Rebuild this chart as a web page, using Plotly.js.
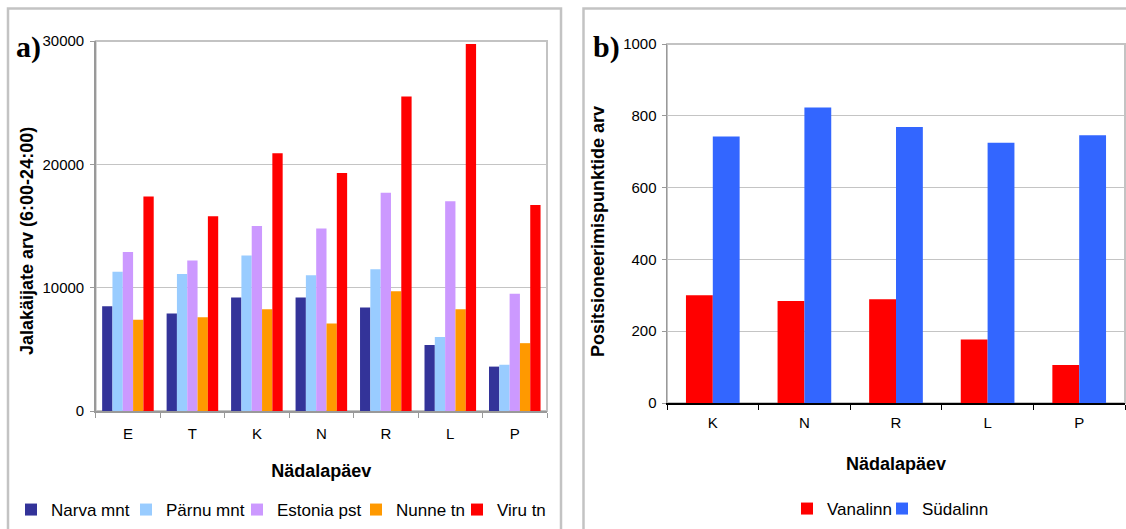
<!DOCTYPE html>
<html>
<head>
<meta charset="utf-8">
<script src="https://cdn.plot.ly/plotly-3.0.1.min.js"></script>
<style>html,body{margin:0;padding:0;background:#fff;}#chart{width:1126px;height:529px;}</style>
</head>
<body>
<div id="chart"></div>
<script>
// ---- data (a): pedestrians per weekday ----
const daysA = ['E', 'T', 'K', 'N', 'R', 'L', 'P'];
const narvaMnt   = [8500, 7900, 9200, 9200, 8400, 5350, 3600];
const parnuMnt   = [11300, 11100, 12600, 11000, 11500, 6000, 3750];
const estoniaPst = [12900, 12200, 15000, 14800, 17700, 17000, 9500];
const nunneTn    = [7400, 7600, 8250, 7100, 9700, 8250, 5500];
const viruTn     = [17400, 15800, 20900, 19300, 25500, 29750, 16700];

// ---- data (b): positioning points per weekday ----
const daysB = ['K', 'N', 'R', 'L', 'P'];
const vanalinn = [300, 284, 289, 177, 106];
const sudalinn = [742, 823, 769, 725, 746];

const FONT = 'Liberation Sans, Arial, sans-serif';
const W = 1126, H = 529;
const px = v => v / W;
const py = v => 1 - v / H;

// one legend per entry so each entry sits where the reference has it
const seriesA = [
  {name: 'Narva mnt',   y: narvaMnt,   color: '#333399', lg: 'legend',  tx: 49},
  {name: 'Pärnu mnt',   y: parnuMnt,   color: '#99CCFF', lg: 'legend2', tx: 164},
  {name: 'Estonia pst', y: estoniaPst, color: '#CC99FF', lg: 'legend3', tx: 275},
  {name: 'Nunne tn',    y: nunneTn,    color: '#FF9900', lg: 'legend4', tx: 394},
  {name: 'Viru tn',     y: viruTn,     color: '#FF0000', lg: 'legend5', tx: 495}
];

const traces = seriesA.map(s => ({
  type: 'bar', x: daysA, y: s.y, name: s.name,
  marker: {color: s.color, line: {width: 0}},
  xaxis: 'x', yaxis: 'y', legend: s.lg
}));

const bw = 0.293;
traces.push({
  type: 'bar', x: daysB, y: vanalinn, name: 'Vanalinn',
  marker: {color: '#FF0000', line: {width: 0}},
  width: bw, offset: -bw,
  xaxis: 'x2', yaxis: 'y2', legend: 'legend6'
});
traces.push({
  type: 'bar', x: daysB, y: sudalinn, name: 'Südalinn',
  marker: {color: '#3366FF', line: {width: 0}},
  width: bw, offset: 0,
  xaxis: 'x2', yaxis: 'y2', legend: 'legend7'
});

const tickFont = {family: FONT, size: 15, color: '#000'};
const titleFont = {family: FONT, size: 18, color: '#000', weight: 'bold'};
const gridC = '#c4c4c4';

function mkLegend(textX, yCenter) {
  return {
    orientation: 'h', x: px(textX - 38), xanchor: 'left', y: py(yCenter), yanchor: 'middle',
    font: {family: FONT, size: 17, color: '#000'}, itemwidth: 30,
    bgcolor: 'rgba(0,0,0,0)', borderwidth: 0
  };
}

const layout = {
  width: W, height: H,
  margin: {l: 0, r: 0, t: 0, b: 0},
  paper_bgcolor: '#fff', plot_bgcolor: '#fff',
  font: {family: FONT, color: '#000'},
  barmode: 'group', bargap: 0.2, bargroupgap: 0,
  showlegend: true,
  xaxis: {
    domain: [px(95.7), px(547)], anchor: 'y', type: 'category',
    showline: true, linecolor: '#999', linewidth: 1.5,
    ticks: 'outside', tickson: 'boundaries', ticklen: 5, tickcolor: '#999',
    tickfont: tickFont, ticklabelstandoff: 8, showgrid: false, zeroline: false,
    title: {text: 'Nädalapäev', font: titleFont, standoff: 24}
  },
  yaxis: {
    domain: [py(411), py(41)], anchor: 'x', range: [0, 30000], dtick: 10000, tickformat: 'd',
    showline: true, linecolor: '#999', linewidth: 1.5,
    ticks: 'outside', ticklen: 4, tickcolor: '#999', ticklabelstandoff: 3,
    tickfont: tickFont, showgrid: true, gridcolor: gridC, gridwidth: 1, zeroline: false
  },
  xaxis2: {
    domain: [px(667), px(1125)], anchor: 'y2', type: 'category',
    showline: true, linecolor: '#000', linewidth: 1.5,
    ticks: 'outside', tickson: 'boundaries', ticklen: 5, tickcolor: '#000',
    tickfont: tickFont, ticklabelstandoff: 5, showgrid: false, zeroline: false,
    title: {text: 'Nädalapäev', font: titleFont, standoff: 28}
  },
  yaxis2: {
    domain: [py(403), py(44)], anchor: 'x2', range: [0, 1000], dtick: 200, tickformat: 'd',
    showline: true, linecolor: '#999', linewidth: 1.5,
    ticks: 'outside', ticklen: 4, tickcolor: '#999', ticklabelstandoff: 2,
    tickfont: tickFont, showgrid: true, gridcolor: gridC, gridwidth: 1, zeroline: false
  },
  legend: mkLegend(seriesA[0].tx, 510),
  legend2: mkLegend(seriesA[1].tx, 510),
  legend3: mkLegend(seriesA[2].tx, 510),
  legend4: mkLegend(seriesA[3].tx, 510),
  legend5: mkLegend(seriesA[4].tx, 510),
  legend6: mkLegend(825, 509),
  legend7: mkLegend(920, 509),
  annotations: [
    {text: '<b>a)</b>', xref: 'paper', yref: 'paper', x: px(14), y: py(47),
     xanchor: 'left', yanchor: 'middle', showarrow: false,
     font: {family: 'Liberation Serif, Times New Roman, serif', size: 30, color: '#000'}},
    {text: '<b>b)</b>', xref: 'paper', yref: 'paper', x: px(591), y: py(47),
     xanchor: 'left', yanchor: 'middle', showarrow: false,
     font: {family: 'Liberation Serif, Times New Roman, serif', size: 30, color: '#000'}},
    {text: 'Jalakäijate arv (6:00-24:00)', xref: 'paper', yref: 'paper', x: px(27), y: py(241),
     xanchor: 'center', yanchor: 'middle', textangle: -90, showarrow: false, font: titleFont},
    {text: 'Positsioneerimispunktide arv', xref: 'paper', yref: 'paper', x: px(598), y: py(232),
     xanchor: 'center', yanchor: 'middle', textangle: -90, showarrow: false, font: titleFont}
  ],
  shapes: [
    // panel frames
    {type: 'rect', xref: 'paper', yref: 'paper', x0: px(8), x1: px(561), y0: -0.1, y1: py(8.5),
     line: {color: '#c3c3c3', width: 2.5}, layer: 'below'},
    {type: 'rect', xref: 'paper', yref: 'paper', x0: px(583.5), x1: 1.1, y0: -0.1, y1: py(8.5),
     line: {color: '#c3c3c3', width: 2.5}, layer: 'below'},
    // plot-area frames
    {type: 'rect', xref: 'x domain', yref: 'y domain', x0: 0, x1: 1, y0: 0, y1: 1,
     line: {color: '#c3c3c3', width: 2}, layer: 'below'},
    {type: 'rect', xref: 'x2 domain', yref: 'y2 domain', x0: 0, x1: 1, y0: 0, y1: 1,
     line: {color: '#c3c3c3', width: 2}, layer: 'below'}
  ]
};

Plotly.newPlot('chart', traces, layout, {staticPlot: true, displayModeBar: false});
</script>
</body>
</html>
